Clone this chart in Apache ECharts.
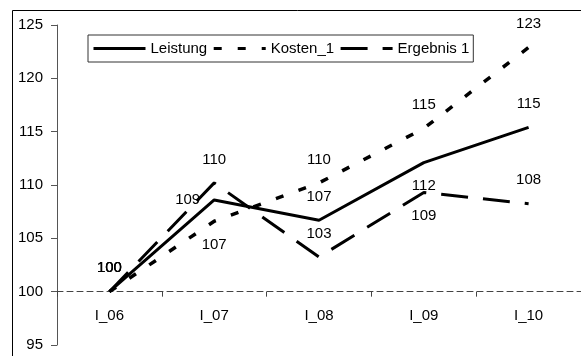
<!DOCTYPE html>
<html>
<head>
<meta charset="utf-8">
<script src="https://cdn.jsdelivr.net/npm/echarts@6/dist/echarts.min.js"></script>
<style>
html,body{margin:0;padding:0;background:#fff;}
#c{width:581px;height:356px;}
</style>
</head>
<body>
<div id="c"></div>
<script>
var categories = ['I_06', 'I_07', 'I_08', 'I_09', 'I_10'];
var leistung = [100, 108.6, 106.7, 112.1, 115.4];
var kosten = [100, 106.6, 110.2, 115.3, 122.9];
var ergebnis = [100, 110.2, 103.25, 109.3, 108.25];
var yTicks = { min: 95, max: 125, interval: 5 };

// label placement per point (style only)
var leistungPos = ['top', 'left', 'top', 'bottom', 'top'];
var kostenPos = ['top', 'bottom', 'top', 'top', 'top'];
var ergebnisPos = ['top', 'top', 'top', 'bottom', 'top'];

var FONT = 'Liberation Sans, Arial, sans-serif';

function build(values, pos) {
  return values.map(function (v, i) {
    return {
      value: v,
      label: { position: pos[i], distance: pos[i] === 'left' ? 14 : 16 }
    };
  });
}

var labelCfg = {
  show: true,
  color: '#000',
  fontFamily: FONT,
  fontSize: 15,
  formatter: function (p) { return Math.round(p.value); }
};

var chart = echarts.init(document.getElementById('c'), null, { renderer: 'canvas' });
chart.setOption({
  animation: false,
  backgroundColor: '#fff',
  textStyle: { fontFamily: FONT },
  graphic: [{
    type: 'rect',
    shape: { x: 12.5, y: 10.5, width: 700, height: 500 },
    style: { fill: 'none', stroke: '#000', lineWidth: 1 },
    silent: true,
    z: -10
  }],
  grid: { left: 57, top: 25, right: -7.5, bottom: 11, containLabel: false },
  legend: {
    left: 88, top: 35,
    padding: [6, 4, 6, 4],
    itemWidth: 52, itemHeight: 14, itemGap: 5,
    borderColor: '#333', borderWidth: 1,
    backgroundColor: '#fff',
    textStyle: { color: '#000', fontFamily: FONT, fontSize: 15 },
    lineStyle: { width: 3 },
    itemStyle: { opacity: 0 },
    data: ['Leistung', 'Kosten_1', 'Ergebnis 1']
  },
  xAxis: {
    type: 'category',
    data: categories,
    boundaryGap: true,
    position: 'bottom',
    offset: -53.33,
    axisLine: { show: true, lineStyle: { color: '#444', width: 1, type: [6, 4] } },
    axisTick: { show: true, length: 5, lineStyle: { color: '#444', width: 1 } },
    axisLabel: { color: '#000', fontFamily: FONT, fontSize: 15, margin: 17 },
    splitLine: { show: false }
  },
  yAxis: {
    type: 'value',
    min: yTicks.min, max: yTicks.max, interval: yTicks.interval,
    axisLine: { show: true, lineStyle: { color: '#555', width: 1 } },
    axisTick: { show: true, length: 6, lineStyle: { color: '#555' } },
    axisLabel: { color: '#000', fontFamily: FONT, fontSize: 15, margin: 14 },
    splitLine: { show: false }
  },
  series: [
    {
      name: 'Leistung', type: 'line', symbol: 'circle', symbolSize: 0, showSymbol: true,
      data: build(leistung, leistungPos),
      lineStyle: { color: '#000', width: 3, type: 'solid' },
      itemStyle: { color: '#000' },
      label: labelCfg, z: 3
    },
    {
      name: 'Kosten_1', type: 'line', symbol: 'circle', symbolSize: 0, showSymbol: true,
      data: build(kosten, kostenPos),
      lineStyle: { color: '#000', width: 3.5, type: [8, 16] },
      itemStyle: { color: '#000' },
      label: labelCfg, z: 2
    },
    {
      name: 'Ergebnis 1', type: 'line', symbol: 'circle', symbolSize: 0, showSymbol: true,
      data: build(ergebnis, ergebnisPos),
      lineStyle: { color: '#000', width: 3, type: [27, 15] },
      itemStyle: { color: '#000' },
      label: labelCfg, z: 1
    }
  ]
});
</script>
</body>
</html>
